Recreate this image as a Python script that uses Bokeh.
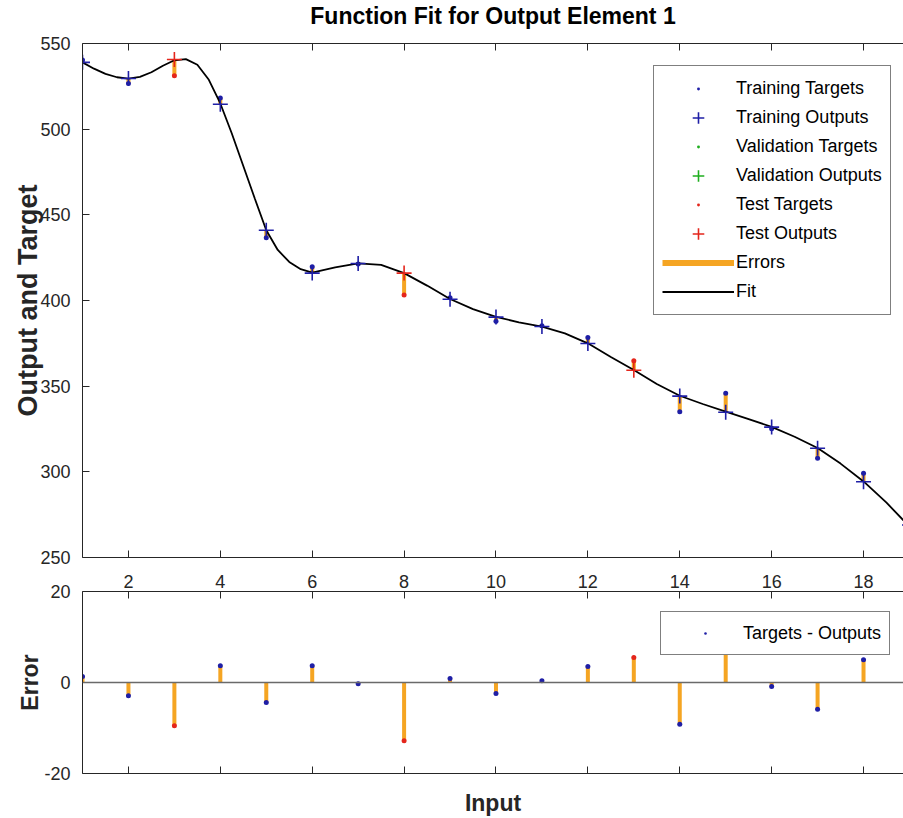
import math
from bokeh.plotting import figure
from bokeh.models import (Range1d, FixedTicker, LinearAxis, Legend, LegendItem,
                          ColumnDataSource, Span, CustomJSTickFormatter)
from bokeh.layouts import column
from bokeh.embed import file_html
from bokeh.resources import INLINE

# ---------------- data ----------------
title_text = "Function Fit for Output Element 1"
samples = list(range(1, 20))
outputs = [539.0, 529.6, 540.7, 514.5, 441.0, 416.0, 421.6, 416.0, 400.7, 390.3,
           384.8, 374.9, 359.3, 344.2, 334.8, 326.1, 313.8, 294.2, 269.0]
targets = [540.3, 526.7, 531.2, 518.2, 436.6, 419.7, 421.3, 403.2, 401.6, 387.9,
           385.2, 378.4, 364.8, 335.0, 345.8, 325.2, 307.9, 299.2, 269.2]
split = ["train", "train", "test", "train", "train", "train", "train", "test", "train", "train",
         "train", "train", "test", "train", "train", "train", "train", "train", "train"]

fit_x = [1, 1.25, 1.5, 1.75, 2, 2.25, 2.5, 2.75, 3, 3.25, 3.5, 3.75, 4, 4.25, 4.5, 4.75,
         5, 5.25, 5.5, 5.75, 6, 6.5, 7, 7.5, 8, 8.5, 9, 9.5, 10, 10.5, 11, 11.5, 12, 12.5,
         13, 13.5, 14, 14.5, 15, 15.5, 16, 16.5, 17, 17.5, 18, 18.5, 19]
fit_y = [539.0, 535.3, 532.3, 530.3, 529.5, 530.5, 533.2, 537.0, 540.2, 540.9, 537.6, 528.8,
         515.0, 497.5, 478.5, 459.5, 441.0, 429.5, 422.5, 418.3, 416.3, 419.3, 421.7, 420.8,
         416.0, 408.7, 400.9, 395.0, 390.4, 387.3, 384.7, 380.8, 375.0, 367.0, 359.4, 351.3,
         344.4, 339.6, 335.2, 330.8, 326.2, 320.5, 313.9, 304.8, 294.4, 282.0, 268.0]

x_ticks = [2, 4, 6, 8, 10, 12, 14, 16, 18]
y_ticks_top = [250, 300, 350, 400, 450, 500, 550]
y_ticks_err = [-20, 0, 20]

# ---------------- style ----------------
BLUE = "#1f1fa6"
RED = "#e4261c"
GREEN = "#1fae1f"
ORANGE = "#f5a523"
AXC = "#262626"
FONT = "Liberation Sans"


def style_axis(ax, labels=True):
    ax.axis_line_color = AXC
    ax.axis_line_width = 1
    ax.major_tick_in = 7
    ax.major_tick_out = 0
    ax.minor_tick_in = 0
    ax.minor_tick_out = 0
    ax.major_tick_line_color = AXC
    ax.major_label_text_font = FONT
    ax.major_label_text_color = AXC
    ax.major_label_text_font_size = "18px"
    ax.axis_label_text_font = FONT
    ax.axis_label_text_font_style = "bold"
    ax.axis_label_text_color = AXC
    ax.axis_label_text_font_size = "25px"
    if not labels:
        # tick marks only (box edge of the MATLAB axes)
        ax.formatter = CustomJSTickFormatter(code="return ''")
        ax.major_label_standoff = 0


def subset(kind):
    idx = [i for i, s in enumerate(split) if s == kind]
    if not idx:
        nan = float("nan")
        return dict(x=[nan], t=[nan], o=[nan], e=[nan], z=[nan])
    return dict(
        x=[samples[i] for i in idx],
        t=[targets[i] for i in idx],
        o=[outputs[i] for i in idx],
        e=[targets[i] - outputs[i] for i in idx],
        z=[0 for _ in idx],
    )


xr = Range1d(1, 18.87)

# ---------------- title strip ----------------
p0 = figure(width=903, height=33, title=title_text,
            output_backend="svg", toolbar_location=None,
            x_axis_location=None, y_axis_location=None,
            min_border_left=82, min_border_right=0, min_border_top=0, min_border_bottom=0)
p0.outline_line_color = None
p0.grid.grid_line_color = None
p0.title.align = "center"
p0.title.text_font = FONT
p0.title.text_font_size = "23px"
p0.title.text_font_style = "bold"
p0.title.text_color = "#000000"
p0.title.standoff = 0

# ---------------- top panel ----------------
p1 = figure(width=903, height=534, x_range=xr, y_range=Range1d(250, 550),
            output_backend="svg", toolbar_location=None,
            x_axis_location=None, y_axis_location=None,
            min_border_left=82, min_border_right=0, min_border_top=10, min_border_bottom=10)
p1.outline_line_color = None
p1.grid.grid_line_color = None

axb = LinearAxis(ticker=FixedTicker(ticks=x_ticks))
style_axis(axb, labels=False)
p1.add_layout(axb, "below")
axt = LinearAxis(ticker=FixedTicker(ticks=x_ticks))
style_axis(axt, labels=False)
p1.add_layout(axt, "above")
ayl = LinearAxis(ticker=FixedTicker(ticks=y_ticks_top), axis_label="Output and Target")
style_axis(ayl)
ayl.axis_label_text_font_size = "27px"
ayl.major_label_standoff = 12
ayl.axis_label_standoff = -6
p1.add_layout(ayl, "left")

tr = ColumnDataSource(subset("train"))
va = ColumnDataSource(subset("val"))
te = ColumnDataSource(subset("test"))

for src in (tr, va, te):
    p1.segment(x0="x", y0="t", x1="x", y1="o", source=src, line_color=ORANGE, line_width=4)

r_tt = p1.scatter("x", "t", source=tr, marker="dot", size=20, line_color=BLUE, fill_color=BLUE)
r_vt = p1.scatter("x", "t", source=va, marker="dot", size=20, line_color=GREEN, fill_color=GREEN)
r_st = p1.scatter("x", "t", source=te, marker="dot", size=20, line_color=RED, fill_color=RED)
r_fit = p1.line(fit_x, fit_y, line_color="black", line_width=1.8)
r_to = p1.scatter("x", "o", source=tr, marker="cross", size=15, line_color=BLUE, line_width=1.6)
r_vo = p1.scatter("x", "o", source=va, marker="cross", size=15, line_color=GREEN, line_width=1.6)
r_so = p1.scatter("x", "o", source=te, marker="cross", size=15, line_color=RED, line_width=1.6)
r_err_leg = p1.line(x=[float("nan")], y=[float("nan")], line_color=ORANGE, line_width=6)


def style_legend(lg):
    lg.label_text_font = FONT
    lg.label_text_font_size = "18px"
    lg.label_text_color = "#000000"
    lg.label_height = 29
    lg.glyph_height = 29
    lg.glyph_width = 72
    lg.label_standoff = 2
    lg.padding = 8
    lg.spacing = 0
    lg.margin = 0
    lg.border_line_color = "black"
    lg.border_line_width = 1
    lg.background_fill_color = "white"
    lg.background_fill_alpha = 1


leg1 = Legend(items=[
    LegendItem(label="Training Targets", renderers=[r_tt]),
    LegendItem(label="Training Outputs", renderers=[r_to]),
    LegendItem(label="Validation Targets", renderers=[r_vt]),
    LegendItem(label="Validation Outputs", renderers=[r_vo]),
    LegendItem(label="Test Targets", renderers=[r_st]),
    LegendItem(label="Test Outputs", renderers=[r_so]),
    LegendItem(label="Errors", renderers=[r_err_leg]),
    LegendItem(label="Fit", renderers=[r_fit]),
], location=(571, 242))
style_legend(leg1)
p1.add_layout(leg1)

# ---------------- error panel ----------------
p2 = figure(width=903, height=251, x_range=xr, y_range=Range1d(-20, 20),
            output_backend="svg", toolbar_location=None,
            x_axis_location=None, y_axis_location=None,
            min_border_left=82, min_border_right=0, min_border_top=24, min_border_bottom=45)
p2.outline_line_color = None
p2.grid.grid_line_color = None

bxb = LinearAxis(ticker=FixedTicker(ticks=x_ticks), axis_label="Input")
style_axis(bxb, labels=False)
bxb.axis_label_text_font_size = "23px"
bxb.axis_label_standoff = 16
p2.add_layout(bxb, "below")
# tick labels of the upper panel's x axis, shown in the gap between the panels
bxt = LinearAxis(ticker=FixedTicker(ticks=x_ticks))
style_axis(bxt)
bxt.major_label_standoff = 4
p2.add_layout(bxt, "above")
byl = LinearAxis(ticker=FixedTicker(ticks=y_ticks_err), axis_label="Error",
                 major_label_overrides={-20: "-20", 0: "0", 20: "20"})
style_axis(byl)
byl.axis_label_text_font_size = "23px"
byl.major_label_standoff = 12
byl.axis_label_standoff = -2
p2.add_layout(byl, "left")

p2.add_layout(Span(location=0, dimension="width", line_color="#6a6a6a", line_width=1.5))

for src in (tr, va, te):
    p2.segment(x0="x", y0="z", x1="x", y1="e", source=src, line_color=ORANGE, line_width=4)
r_d = p2.scatter("x", "e", source=tr, marker="dot", size=20, line_color=BLUE, fill_color=BLUE)
p2.scatter("x", "e", source=va, marker="dot", size=20, line_color=GREEN, fill_color=GREEN)
p2.scatter("x", "e", source=te, marker="dot", size=20, line_color=RED, fill_color=RED)

leg2 = Legend(items=[LegendItem(label="Targets - Outputs", renderers=[r_d])], location=(578, 118))
style_legend(leg2)
leg2.label_height = 26
leg2.glyph_height = 26
p2.add_layout(leg2)

layout = column(p0, p1, p2, spacing=0)

with open("out.html", "w") as f:
    f.write(file_html(layout, INLINE))
